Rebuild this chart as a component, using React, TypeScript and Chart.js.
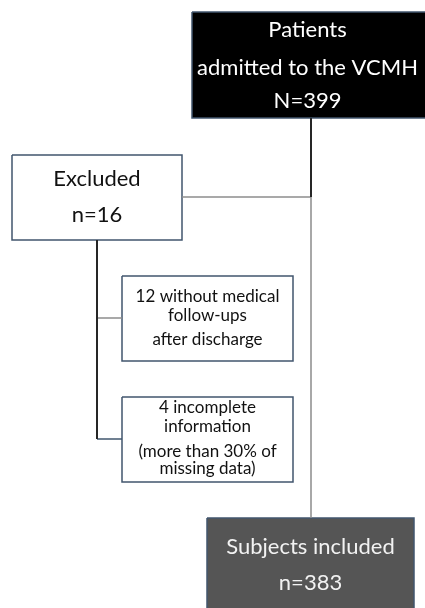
import React, { useEffect, useRef } from "react";
import { Chart, registerables } from "chart.js";

Chart.register(...registerables);

// Flow counts
const admitted = 399;
const excluded = 16;
const noFollowUp = 12;
const incomplete = 4;
const included = 383;

// Node texts
const topLines = ["Patients", "admitted to the VCMH", `N=${admitted}`];
const excludedLines = ["Excluded", `n=${excluded}`];
const followLines = [`${noFollowUp} without medical`, "follow-ups", "after discharge"];
const incompleteLines = [`${incomplete} incomplete`, "information", "(more than 30% of", "missing data)"];
const includedLines = ["Subjects included", `n=${included}`];

// Layout (canvas units, y downward)
const W = 425;
const H = 608;
const FONT = "Lato, 'Open Sans', sans-serif";

type Box = {
  rect: [number, number, number, number];
  fill: string;
  border: string;
  color: string;
  size: number;
  lines: string[];
  ys: number[];
};

const boxes: Box[] = [
  { rect: [192, 12, 440, 118], fill: "#000000", border: "#41566e", color: "#ffffff", size: 22, lines: topLines, ys: [30, 68, 101] },
  { rect: [12, 155, 182, 240], fill: "#ffffff", border: "#41566e", color: "#111111", size: 22, lines: excludedLines, ys: [179, 215] },
  { rect: [122, 276, 293, 361], fill: "#ffffff", border: "#41566e", color: "#111111", size: 17, lines: followLines, ys: [297, 316, 340] },
  { rect: [122, 397, 293, 482], fill: "#ffffff", border: "#41566e", color: "#111111", size: 17, lines: incompleteLines, ys: [408, 427, 452, 469] },
  { rect: [207, 518, 414, 620], fill: "#555555", border: "#41566e", color: "#f2f2f2", size: 22, lines: includedLines, ys: [547, 583] },
];

type Seg = { pts: [number, number][]; color: string; width: number };
const connectors: Seg[] = [
  { pts: [[311, 118], [311, 197]], color: "#262626", width: 2 },
  { pts: [[311, 197], [311, 518]], color: "#8c8c8c", width: 1.5 },
  { pts: [[182, 197], [311, 197]], color: "#8c8c8c", width: 1.5 },
  { pts: [[97, 240], [97, 439]], color: "#262626", width: 2 },
  { pts: [[97, 318], [122, 318]], color: "#8c8c8c", width: 1.5 },
  { pts: [[97, 439], [122, 439]], color: "#41566e", width: 1.5 },
];

const boxTextPlugin = {
  id: "boxText",
  afterDatasetsDraw(chart: any) {
    const { ctx, scales } = chart;
    const xs = scales.x;
    const ys = scales.y;
    ctx.save();
    ctx.textAlign = "center";
    ctx.textBaseline = "middle";
    boxes.forEach((b) => {
      const cx = xs.getPixelForValue((b.rect[0] + Math.min(b.rect[2], W)) / 2 + (b.rect[2] > W ? -1 : 0));
      ctx.fillStyle = b.color;
      ctx.font = `${b.size}px ${FONT}`;
      b.lines.forEach((t, i) => {
        ctx.fillText(t, cx, ys.getPixelForValue(b.ys[i]));
      });
    });
    ctx.restore();
  },
};

export default function App() {
  const ref = useRef<HTMLCanvasElement | null>(null);
  useEffect(() => {
    if (!ref.current) return;
    const datasets: any[] = [];
    connectors.forEach((s) => {
      datasets.push({
        data: s.pts.map(([x, y]) => ({ x, y })),
        showLine: true,
        borderColor: s.color,
        borderWidth: s.width,
        pointRadius: 0,
        fill: false,
      });
    });
    boxes.forEach((b) => {
      const [x0, y0, x1, y1] = b.rect;
      datasets.push({
        data: [
          { x: x0, y: y0 },
          { x: x1, y: y0 },
          { x: x1, y: y1 },
          { x: x0, y: y1 },
          { x: x0, y: y0 },
        ],
        showLine: true,
        borderColor: b.border,
        borderWidth: 1.5,
        backgroundColor: b.fill,
        pointRadius: 0,
        fill: "shape",
        tension: 0,
      });
    });
    const chart = new Chart(ref.current, {
      type: "scatter",
      data: { datasets },
      options: {
        animation: false,
        responsive: false,
        maintainAspectRatio: false,
        layout: { padding: 0 },
        plugins: { legend: { display: false }, tooltip: { enabled: false } },
        scales: {
          x: { type: "linear", min: 0, max: W, display: false },
          y: { type: "linear", min: 0, max: H, reverse: true, display: false },
        },
        elements: { line: { capBezierPoints: false } },
      },
      plugins: [boxTextPlugin],
    });
    return () => chart.destroy();
  }, []);
  return (
    <div style={{ position: "fixed", left: 0, top: 0, width: W, height: H, background: "#ffffff" }}>
      <canvas ref={ref} width={W} height={H} style={{ display: "block" }} />
    </div>
  );
}
